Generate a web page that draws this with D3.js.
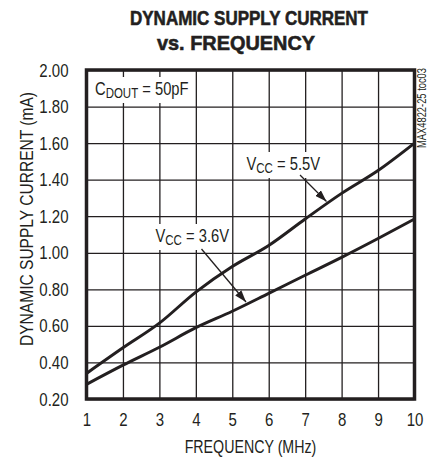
<!DOCTYPE html>
<html>
<head>
<meta charset="utf-8">
<script src="https://cdn.jsdelivr.net/npm/d3@7"></script>
<style>
  html, body { margin: 0; padding: 0; background: #fff; }
  svg { display: block; font-family: "Liberation Sans", Arial, sans-serif; }
</style>
</head>
<body>
<div id="chart"></div>
<script>
// Chart data
const frequencies = [1, 2, 3, 4, 5, 6, 7, 8, 9, 10];
const vcc55 = [0.34, 0.48, 0.615, 0.785, 0.925, 1.04, 1.185, 1.325, 1.45, 1.60];
const vcc36 = [0.28, 0.385, 0.483, 0.59, 0.68, 0.778, 0.877, 0.975, 1.078, 1.185];
const yTicks = [0.2, 0.4, 0.6, 0.8, 1.0, 1.2, 1.4, 1.6, 1.8, 2.0];
const xTicks = [1, 2, 3, 4, 5, 6, 7, 8, 9, 10];

const ink = '#231f20';
const width = 433, height = 460;
const plot = { left: 86.5, right: 414.5, top: 70, bottom: 399 };
const narrow = 0.79; // no condensed font installed, so squeeze glyphs horizontally

const x = d3.scaleLinear().domain([1, 10]).range([plot.left, plot.right]);
const y = d3.scaleLinear().domain([0.2, 2.0]).range([plot.bottom, plot.top]);

// Squeezes each text to look like a condensed face.
function condense(sel, k = narrow) {
  sel.each(function () {
    const len = this.getComputedTextLength();
    d3.select(this).attr('textLength', len * k).attr('lengthAdjust', 'spacingAndGlyphs');
  });
}

const svg = d3.select('#chart').append('svg')
  .attr('width', width)
  .attr('height', height);

// Title
const title = svg.append('g')
  .attr('font-weight', '700')
  .attr('fill', ink)
  .attr('stroke', ink)
  .attr('stroke-width', 0.6)
  .attr('text-anchor', 'middle');
title.append('text')
  .attr('x', 249).attr('y', 25)
  .attr('font-size', 21)
  .attr('textLength', 238).attr('lengthAdjust', 'spacingAndGlyphs')
  .text('DYNAMIC SUPPLY CURRENT');
title.append('text')
  .attr('x', 236).attr('y', 50)
  .attr('font-size', 21)
  .attr('textLength', 158).attr('lengthAdjust', 'spacingAndGlyphs')
  .text('vs. FREQUENCY');

// Grid
svg.append('g')
  .attr('transform', `translate(0,${plot.bottom})`)
  .call(d3.axisBottom(x).tickValues(xTicks).tickSize(-(plot.bottom - plot.top)).tickFormat(''))
  .call(g => g.select('.domain').remove())
  .call(g => g.selectAll('line').attr('stroke', ink).attr('stroke-width', 1.3));
svg.append('g')
  .attr('transform', `translate(${plot.left},0)`)
  .call(d3.axisLeft(y).tickValues(yTicks).tickSize(-(plot.right - plot.left)).tickFormat(''))
  .call(g => g.select('.domain').remove())
  .call(g => g.selectAll('line').attr('stroke', ink).attr('stroke-width', 1.3));

// Tick labels
svg.append('g')
  .attr('transform', `translate(0,${plot.bottom})`)
  .call(d3.axisBottom(x).tickValues(xTicks).tickSize(0).tickPadding(14).tickFormat(d3.format('d')))
  .call(g => g.select('.domain').remove())
  .call(g => g.selectAll('text').attr('font-size', 19).attr('fill', ink).attr('font-family', null).call(condense));
svg.append('g')
  .attr('transform', `translate(${plot.left},0)`)
  .call(d3.axisLeft(y).tickValues(yTicks).tickSize(0).tickPadding(18).tickFormat(d3.format('.2f')))
  .call(g => g.select('.domain').remove())
  .call(g => g.selectAll('text').attr('font-size', 19).attr('fill', ink).attr('font-family', null).call(condense));

// Axis titles
svg.append('text')
  .attr('x', (plot.left + plot.right) / 2).attr('y', 453)
  .attr('text-anchor', 'middle')
  .attr('font-size', 18).attr('fill', ink)
  .text('FREQUENCY (MHz)')
  .call(condense);
svg.append('text')
  .attr('transform', 'translate(33,219) rotate(-90)')
  .attr('text-anchor', 'middle')
  .attr('font-size', 18).attr('fill', ink)
  .attr('textLength', 254).attr('lengthAdjust', 'spacingAndGlyphs')
  .text('DYNAMIC SUPPLY CURRENT (mA)');
svg.append('text')
  .attr('transform', 'translate(426,108) rotate(-90)')
  .attr('text-anchor', 'middle')
  .attr('font-size', 12).attr('fill', ink)
  .attr('textLength', 80).attr('lengthAdjust', 'spacingAndGlyphs')
  .text('MAX4822-25 toc03');

// Curves
const line = d3.line()
  .x((d, i) => x(frequencies[i]))
  .y(d => y(d))
  .curve(d3.curveMonotoneX);
[vcc55, vcc36].forEach(series => {
  svg.append('path')
    .datum(series)
    .attr('fill', 'none')
    .attr('stroke', ink)
    .attr('stroke-width', 3)
    .attr('stroke-linejoin', 'round')
    .attr('d', line);
});

// Plot border
svg.append('rect')
  .attr('x', plot.left).attr('y', plot.top)
  .attr('width', plot.right - plot.left).attr('height', plot.bottom - plot.top)
  .attr('fill', 'none').attr('stroke', ink).attr('stroke-width', 3.5);

// Annotation labels with white background boxes
function subLabel(px, py, main, sub, rest, boxW) {
  const g = svg.append('g');
  g.append('rect')
    .attr('x', px - 3).attr('y', py - 18)
    .attr('width', boxW).attr('height', 26)
    .attr('fill', '#fff');
  const t = g.append('text')
    .attr('transform', `translate(${px},${py}) scale(0.82,1)`)
    .attr('font-size', 18).attr('fill', ink);
  t.append('tspan').text(main);
  t.append('tspan').attr('font-size', 14).attr('dy', 3).text(sub);
  t.append('tspan').attr('dy', -3).text(rest);
}
subLabel(95, 95, 'C', 'DOUT', ' = 50pF', 97);
subLabel(155.5, 242, 'V', 'CC', ' = 3.6V', 78);
subLabel(246.5, 170, 'V', 'CC', ' = 5.5V', 78);

// Arrows
svg.append('defs').append('marker')
  .attr('id', 'arrow')
  .attr('viewBox', '0 0 12 8')
  .attr('refX', 12).attr('refY', 4)
  .attr('markerWidth', 12).attr('markerHeight', 8)
  .attr('markerUnits', 'userSpaceOnUse')
  .attr('orient', 'auto')
  .append('path')
  .attr('d', 'M0,0 L12,4 L0,8 Z')
  .attr('fill', ink);
const arrows = [
  { x1: 201.5, y1: 249, x2: 246, y2: 302 },
  { x1: 300, y1: 175, x2: 326.5, y2: 201.5 }
];
svg.selectAll('.arrow')
  .data(arrows)
  .join('line')
  .attr('class', 'arrow')
  .attr('x1', d => d.x1).attr('y1', d => d.y1)
  .attr('x2', d => d.x2).attr('y2', d => d.y2)
  .attr('stroke', ink).attr('stroke-width', 1.3)
  .attr('marker-end', 'url(#arrow)');
</script>
</body>
</html>
